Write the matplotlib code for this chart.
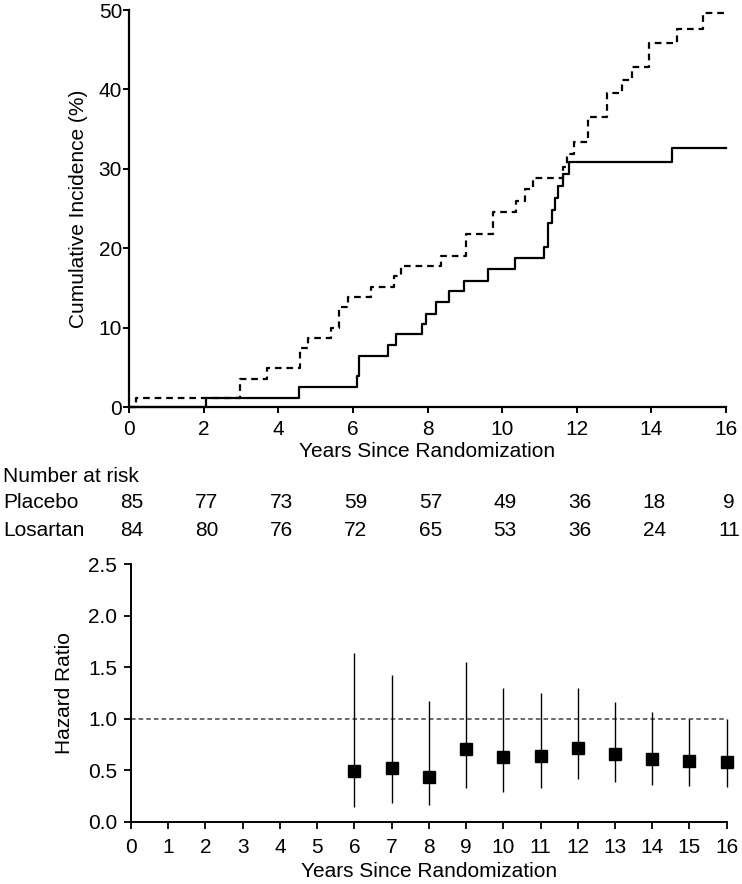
import matplotlib
matplotlib.use("Agg")
import matplotlib.pyplot as plt
import matplotlib.transforms as mtransforms

plt.rcParams["font.family"] = ["Liberation Sans", "DejaVu Sans"]

# cumulative incidence curves (step functions)
placebo_t = [0, 0.2, 2.97, 3.71, 4.58, 4.80, 5.41, 5.63, 5.86, 6.49, 7.11, 7.28, 8.36, 9.03,
             9.76, 10.37, 10.62, 10.83, 11.64, 11.75, 11.93, 12.31, 12.82, 13.20, 13.49,
             13.94, 14.68, 15.39, 16.0]
placebo_ci = [0, 1.2, 3.6, 4.9, 7.4, 8.7, 10.0, 12.6, 13.9, 15.2, 16.5, 17.8, 19.1, 21.8,
              24.6, 26.0, 27.5, 28.8, 30.3, 31.9, 33.4, 36.5, 39.6, 41.2, 42.8,
              45.8, 47.6, 49.6, 49.6]
losartan_t = [0, 2.06, 4.56, 6.12, 6.16, 6.95, 7.15, 7.86, 7.95, 8.22, 8.58, 8.98, 9.61,
              10.34, 11.13, 11.22, 11.33, 11.42, 11.51, 11.62, 11.80, 14.55, 16.0]
losartan_ci = [0, 1.2, 2.5, 3.9, 6.5, 7.8, 9.2, 10.5, 11.8, 13.2, 14.6, 15.9, 17.4,
               18.8, 20.2, 23.2, 24.8, 26.3, 27.8, 29.3, 30.9, 32.6, 32.6]

# number at risk
risk_years = [0, 2, 4, 6, 8, 10, 12, 14, 16]
placebo_risk = [85, 77, 73, 59, 57, 49, 36, 18, 9]
losartan_risk = [84, 80, 76, 72, 65, 53, 36, 24, 11]

# hazard ratio by year
hr_years = [6, 7, 8, 9, 10, 11, 12, 13, 14, 15, 16]
hr = [0.495, 0.525, 0.434, 0.706, 0.625, 0.635, 0.719, 0.654, 0.612, 0.586, 0.576]
hr_lo = [0.139, 0.185, 0.162, 0.324, 0.291, 0.324, 0.411, 0.382, 0.356, 0.350, 0.340]
hr_hi = [1.642, 1.425, 1.172, 1.554, 1.302, 1.247, 1.302, 1.159, 1.069, 1.00, 1.00]

W, H = 742, 884
fig = plt.figure(figsize=(W / 100, H / 100), dpi=100)
fs = 15

# top panel
ax1 = fig.add_axes([129 / W, 1 - 407.3 / H, 597 / W, 397.3 / H])
ax1.step(losartan_t, losartan_ci, where="post", color="black", lw=1.6, clip_on=False)
ax1.step(placebo_t, placebo_ci, where="post", color="black", lw=1.6,
         linestyle=(0, (3, 2.2)), clip_on=False)
ax1.set_xlim(0, 16)
ax1.set_ylim(0, 50)
ax1.set_xticks(range(0, 17, 2))
ax1.set_yticks(range(0, 51, 10))
for s in ["top", "right"]:
    ax1.spines[s].set_visible(False)
for s in ["left", "bottom"]:
    ax1.spines[s].set_linewidth(1.6)
ax1.tick_params(direction="out", length=4, width=1.4, labelsize=fs)
ax1.tick_params(axis="y", pad=1)
ax1.tick_params(axis="x", pad=5)
ax1.set_xlabel("Years Since Randomization", fontsize=fs, labelpad=2)
ax1.set_ylabel("Cumulative Incidence (%)", fontsize=fs, labelpad=8)

# number at risk table
fig.text(3 / W, 1 - 477 / H, "Number at risk", fontsize=fs, va="center", ha="left")
fig.text(3 / W, 1 - 503 / H, "Placebo", fontsize=fs, va="center", ha="left")
fig.text(3 / W, 1 - 530 / H, "Losartan", fontsize=fs, va="center", ha="left")
trans = mtransforms.blended_transform_factory(ax1.transData, fig.transFigure)
trans = mtransforms.offset_copy(trans, fig=fig, x=3, units="dots")
for yr, p, l in zip(risk_years, placebo_risk, losartan_risk):
    fig.text(yr, 1 - 503 / H, str(p), fontsize=fs, va="center", ha="center", transform=trans)
    fig.text(yr, 1 - 530 / H, str(l), fontsize=fs, va="center", ha="center", transform=trans)

# bottom panel
ax2 = fig.add_axes([131 / W, 1 - 821.7 / H, 595.7 / W, 257.4 / H])
ax2.axhline(1.0, color="#444444", lw=1.1, linestyle=(0, (3, 2)), zorder=1)
yerr = [[h - lo for h, lo in zip(hr, hr_lo)], [hi - h for h, hi in zip(hr, hr_hi)]]
ax2.errorbar(hr_years, hr, yerr=yerr, fmt="s", color="black", ms=8, elinewidth=1.0,
             capsize=0, zorder=3, clip_on=False)
ax2.set_xlim(0, 16)
ax2.set_ylim(0, 2.5)
ax2.set_xticks(range(0, 17))
ax2.set_yticks([0, 0.5, 1.0, 1.5, 2.0, 2.5])
ax2.set_yticklabels(["0.0", "0.5", "1.0", "1.5", "2.0", "2.5"])
for s in ["top", "right"]:
    ax2.spines[s].set_visible(False)
for s in ["left", "bottom"]:
    ax2.spines[s].set_linewidth(1.4)
ax2.tick_params(direction="out", length=5, width=1.3, labelsize=fs)
ax2.tick_params(axis="y", pad=5)
ax2.tick_params(axis="x", pad=7)
ax2.set_xlabel("Years Since Randomization", fontsize=fs, labelpad=3)
ax2.set_ylabel("Hazard Ratio", fontsize=fs, labelpad=10)

fig.savefig("out.png", dpi=100)
